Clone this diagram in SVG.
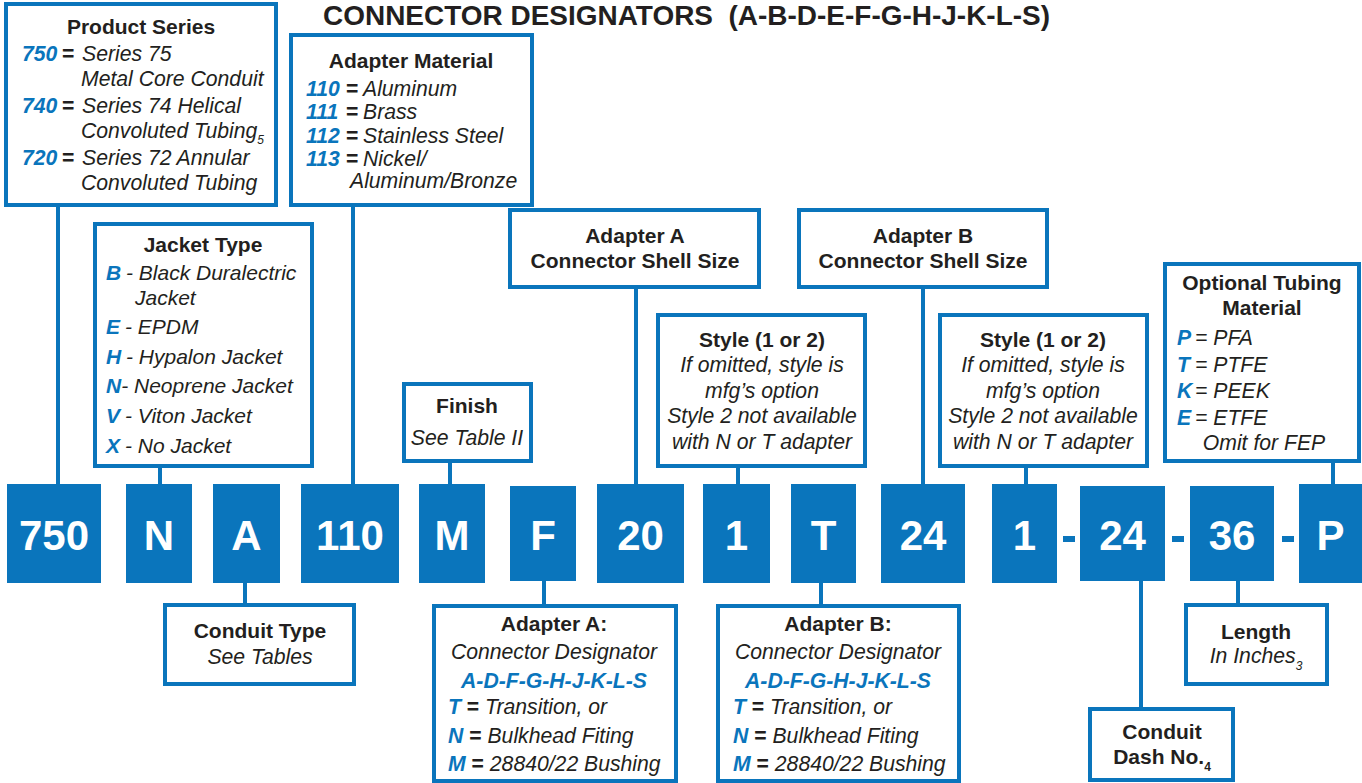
<svg xmlns="http://www.w3.org/2000/svg" width="1362" height="783" viewBox="0 0 1362 783">
<style>
text{font-family:"Liberation Sans",Arial,Helvetica,sans-serif;font-size:21.2px;fill:#231f20}
.title{font-size:27.5px;font-weight:bold}
.box{fill:#fff;stroke:#0a75bc;stroke-width:4}
.blk{fill:#0a75bc}
.bt{font-size:42px;font-weight:bold;fill:#fff;text-anchor:middle}
.h{font-weight:bold;font-size:21px}
.i{font-style:italic}
.c{text-anchor:middle}
.k{fill:#0a75bc;font-weight:bold;font-style:italic}
.eq{font-weight:bold;font-style:normal}
.j{font-size:21px}
.sub{font-size:12px}
.con path{stroke:#0a75bc;stroke-width:4;fill:none}
</style>
<rect width="1362" height="783" fill="#fff"/>
<text class="title" x="323" y="25" textLength="727" lengthAdjust="spacingAndGlyphs">CONNECTOR DESIGNATORS &#160;(A-B-D-E-F-G-H-J-K-L-S)</text>

<g class="con">
<path d="M58 205V484M160 466V484M353 205V484M450 461V484M636 287V484M738 466V484M923 287V484M1026 466V484M1333 461V484"/>
<path d="M245 583V605M544 581V606M821 583V606M1141 581V709M1238 581V605"/>
</g>

<g id="product-series">
<rect class="box" x="6" y="4" width="270" height="201"/>
<text class="h c" x="141" y="34">Product Series</text>
<text y="61"><tspan class="k" x="22">750</tspan><tspan class="eq" x="62">=</tspan><tspan class="i" x="82">Series 75</tspan></text>
<text class="i" x="81" y="86">Metal Core Conduit</text>
<text y="113"><tspan class="k" x="22">740</tspan><tspan class="eq" x="62">=</tspan><tspan class="i" x="82">Series 74 Helical</tspan></text>
<text class="i" x="81" y="138">Convoluted Tubing<tspan class="sub" dy="6">5</tspan></text>
<text y="165"><tspan class="k" x="22">720</tspan><tspan class="eq" x="62">=</tspan><tspan class="i" x="82">Series 72 Annular</tspan></text>
<text class="i" x="81" y="190">Convoluted Tubing</text>
</g>

<g id="adapter-material">
<rect class="box" x="291" y="35" width="241" height="170"/>
<text class="h c" x="411" y="68">Adapter Material</text>
<text y="96"><tspan class="k" x="306">110</tspan><tspan class="eq" x="346">=</tspan><tspan class="i" x="363">Aluminum</tspan></text>
<text y="119"><tspan class="k" x="306">111</tspan><tspan class="eq" x="346">=</tspan><tspan class="i" x="363">Brass</tspan></text>
<text y="143"><tspan class="k" x="306">112</tspan><tspan class="eq" x="346">=</tspan><tspan class="i" x="363">Stainless Steel</tspan></text>
<text y="166"><tspan class="k" x="306">113</tspan><tspan class="eq" x="346">=</tspan><tspan class="i" x="363">Nickel/</tspan></text>
<text class="i" x="350" y="188">Aluminum/Bronze</text>
</g>

<g id="jacket-type">
<rect class="box" x="95" y="224" width="217" height="242"/>
<text class="h c" x="203" y="252">Jacket Type</text>
<text class="j" y="280"><tspan class="k" x="106">B</tspan><tspan class="i" x="126">- Black Duralectric</tspan></text>
<text class="j i" x="135" y="305">Jacket</text>
<text class="j" y="334"><tspan class="k" x="106">E</tspan><tspan class="i" x="125">- EPDM</tspan></text>
<text class="j" y="364"><tspan class="k" x="106">H</tspan><tspan class="i" x="126">- Hypalon Jacket</tspan></text>
<text class="j" y="393"><tspan class="k" x="106">N</tspan><tspan class="i">- Neoprene Jacket</tspan></text>
<text class="j" y="423"><tspan class="k" x="106">V</tspan><tspan class="i" x="125">- Viton Jacket</tspan></text>
<text class="j" y="453"><tspan class="k" x="106">X</tspan><tspan class="i" x="125">- No Jacket</tspan></text>
</g>

<g id="finish">
<rect class="box" x="404" y="384" width="127" height="77"/>
<text class="h c" x="467" y="413">Finish</text>
<text class="i c" x="467" y="445">See Table II</text>
</g>

<g id="adapter-a-shell">
<rect class="box" x="510" y="210" width="249" height="77"/>
<text class="h c" x="635" y="243">Adapter A</text>
<text class="h c" x="635" y="268">Connector Shell Size</text>
</g>

<g id="style-a">
<rect class="box" x="658" y="315" width="207" height="151"/>
<text class="h c" x="762" y="347">Style (1 or 2)</text>
<text class="i c" x="762" y="372">If omitted, style is</text>
<text class="i c" x="762" y="398">mfg’s option</text>
<text class="i c" x="762" y="423">Style 2 not available</text>
<text class="i c" x="762" y="449">with N or T adapter</text>
</g>

<g id="adapter-b-shell">
<rect class="box" x="799" y="210" width="248" height="77"/>
<text class="h c" x="923" y="243">Adapter B</text>
<text class="h c" x="923" y="268">Connector Shell Size</text>
</g>

<g id="style-b">
<rect class="box" x="940" y="315" width="207" height="151"/>
<text class="h c" x="1043" y="347">Style (1 or 2)</text>
<text class="i c" x="1043" y="372">If omitted, style is</text>
<text class="i c" x="1043" y="398">mfg’s option</text>
<text class="i c" x="1043" y="423">Style 2 not available</text>
<text class="i c" x="1043" y="449">with N or T adapter</text>
</g>

<g id="optional-tubing">
<rect class="box" x="1165" y="264" width="194" height="197"/>
<text class="h c" x="1262" y="290">Optional Tubing</text>
<text class="h c" x="1262" y="315">Material</text>
<text y="345"><tspan class="k" x="1177">P</tspan><tspan class="i" x="1195">= PFA</tspan></text>
<text y="372"><tspan class="k" x="1177">T</tspan><tspan class="i" x="1195">= PTFE</tspan></text>
<text y="398"><tspan class="k" x="1177">K</tspan><tspan class="i" x="1195">= PEEK</tspan></text>
<text y="425"><tspan class="k" x="1177">E</tspan><tspan class="i" x="1195">= ETFE</tspan></text>
<text class="i c" x="1264" y="450">Omit for FEP</text>
</g>

<g id="blocks">
<g id="b-750"><rect class="blk" x="7" y="484" width="94" height="99"/><text class="bt" x="54" y="550">750</text></g>
<g id="b-n"><rect class="blk" x="126" y="484" width="66" height="99"/><text class="bt" x="159" y="550">N</text></g>
<g id="b-a"><rect class="blk" x="213" y="484" width="67" height="99"/><text class="bt" x="246.5" y="550">A</text></g>
<g id="b-110"><rect class="blk" x="301" y="484" width="98" height="99"/><text class="bt" x="350" y="550">110</text></g>
<g id="b-m"><rect class="blk" x="419" y="484" width="66" height="99"/><text class="bt" x="452" y="550">M</text></g>
<g id="b-f"><rect class="blk" x="510" y="486" width="66" height="95"/><text class="bt" x="543" y="550">F</text></g>
<g id="b-20"><rect class="blk" x="597" y="484" width="87" height="99"/><text class="bt" x="640.5" y="550">20</text></g>
<g id="b-1a"><rect class="blk" x="703" y="484" width="67" height="99"/><text class="bt" x="736.5" y="550">1</text></g>
<g id="b-t"><rect class="blk" x="791" y="484" width="65" height="99"/><text class="bt" x="823.5" y="550">T</text></g>
<g id="b-24a"><rect class="blk" x="881" y="484" width="84" height="99"/><text class="bt" x="923" y="550">24</text></g>
<g id="b-1b"><rect class="blk" x="992" y="484" width="65" height="99"/><text class="bt" x="1024.5" y="550">1</text></g>
<g id="b-24b"><rect class="blk" x="1080" y="486" width="85" height="95"/><text class="bt" x="1122.5" y="550">24</text></g>
<g id="b-36"><rect class="blk" x="1190" y="486" width="84" height="95"/><text class="bt" x="1232" y="550">36</text></g>
<g id="b-p"><rect class="blk" x="1299" y="484" width="63" height="99"/><text class="bt" x="1330.5" y="550">P</text></g>
<rect class="blk" x="1063" y="536" width="12" height="6"/>
<rect class="blk" x="1172" y="536" width="12" height="6"/>
<rect class="blk" x="1282" y="536" width="12" height="6"/>
</g>

<g id="conduit-type">
<rect class="box" x="165" y="605" width="189" height="79"/>
<text class="h c" x="260" y="638">Conduit Type</text>
<text class="i c" x="260" y="664">See Tables</text>
</g>

<g id="adapter-a">
<rect class="box" x="434" y="606" width="242" height="175"/>
<text class="h c" x="554" y="631">Adapter A:</text>
<text class="i c" x="554" y="659">Connector Designator</text>
<text class="k c" x="554" y="688">A-D-F-G-H-J-K-L-S</text>
<text x="448" y="714"><tspan class="k">T</tspan> <tspan class="eq">=</tspan> <tspan class="i">Transition, or</tspan></text>
<text x="448" y="743"><tspan class="k">N</tspan> <tspan class="eq">=</tspan> <tspan class="i">Bulkhead Fiting</tspan></text>
<text x="448" y="771"><tspan class="k">M</tspan> <tspan class="eq">=</tspan> <tspan class="i">28840/22 Bushing</tspan></text>
</g>

<g id="adapter-b">
<rect class="box" x="718" y="606" width="241" height="175"/>
<text class="h c" x="838" y="631">Adapter B:</text>
<text class="i c" x="838" y="659">Connector Designator</text>
<text class="k c" x="838" y="688">A-D-F-G-H-J-K-L-S</text>
<text x="733" y="714"><tspan class="k">T</tspan> <tspan class="eq">=</tspan> <tspan class="i">Transition, or</tspan></text>
<text x="733" y="743"><tspan class="k">N</tspan> <tspan class="eq">=</tspan> <tspan class="i">Bulkhead Fiting</tspan></text>
<text x="733" y="771"><tspan class="k">M</tspan> <tspan class="eq">=</tspan> <tspan class="i">28840/22 Bushing</tspan></text>
</g>

<g id="length">
<rect class="box" x="1186" y="605" width="141" height="79"/>
<text class="h c" x="1256" y="639">Length</text>
<text class="i c" x="1256" y="663">In Inches<tspan class="sub" dy="7">3</tspan></text>
</g>

<g id="conduit-dash">
<rect class="box" x="1090" y="709" width="143" height="71"/>
<text class="h c" x="1162" y="739">Conduit</text>
<text class="h c" x="1162" y="764">Dash No.<tspan class="sub" dy="7">4</tspan></text>
</g>
</svg>
